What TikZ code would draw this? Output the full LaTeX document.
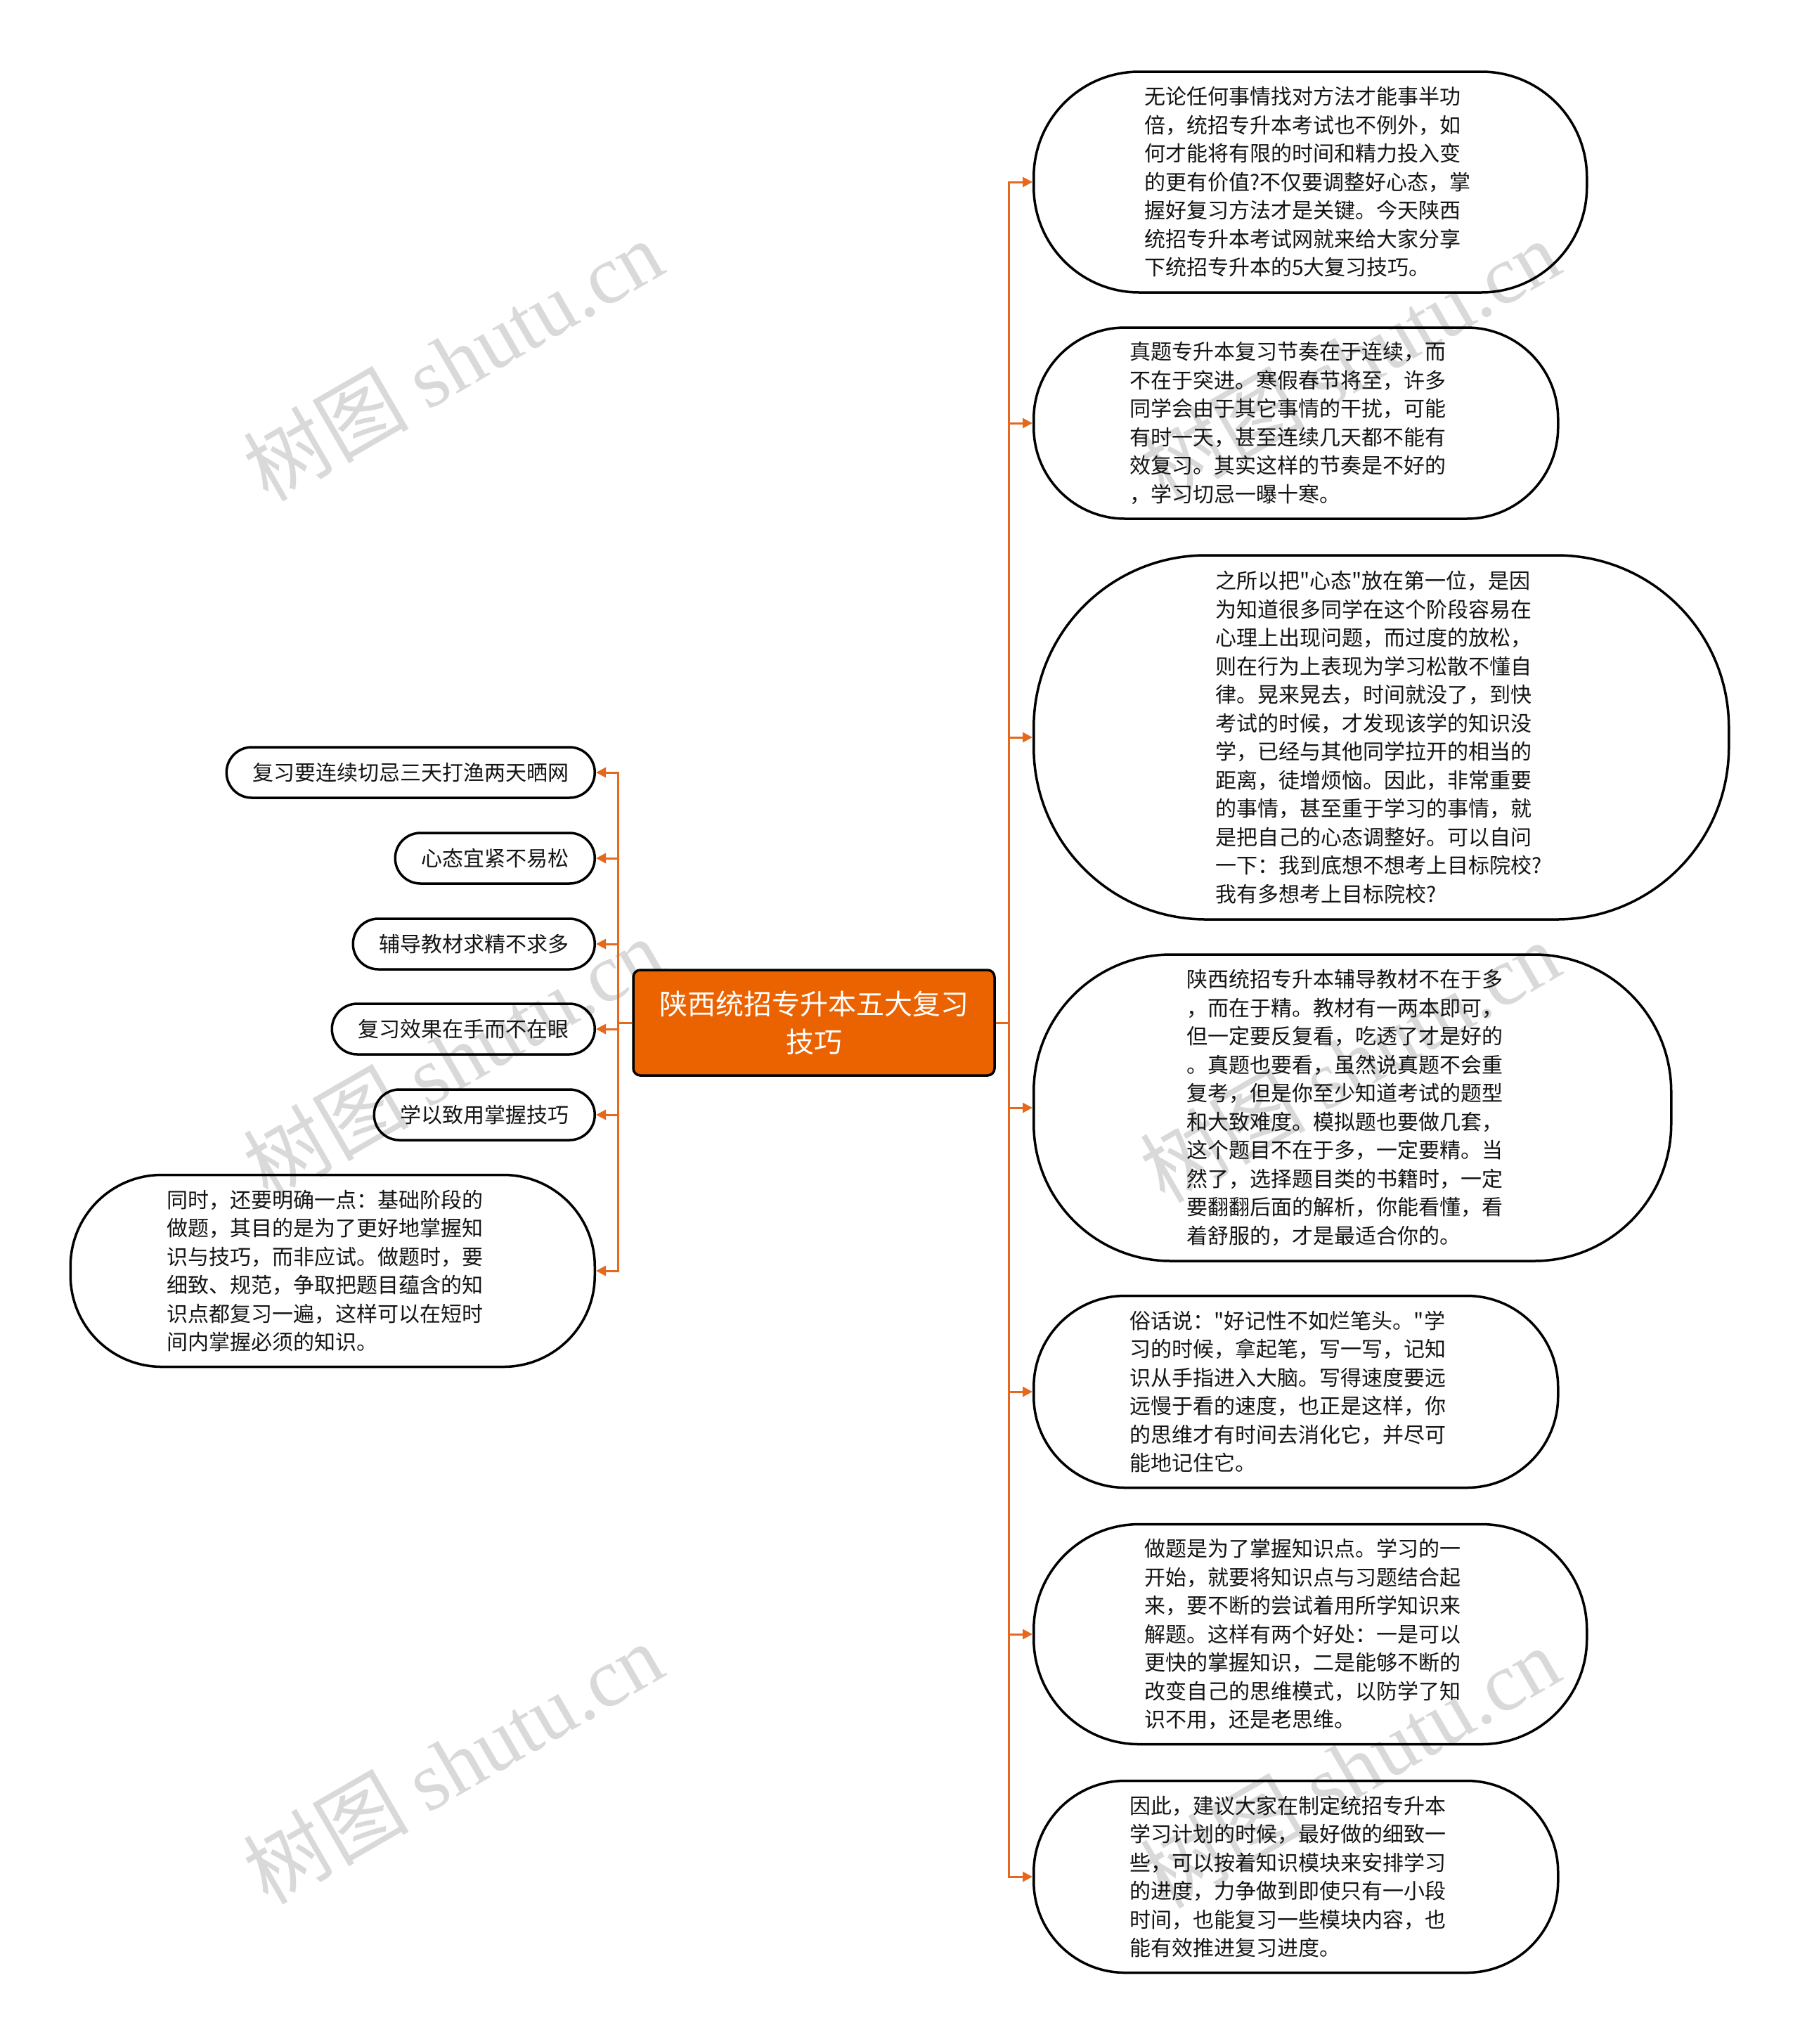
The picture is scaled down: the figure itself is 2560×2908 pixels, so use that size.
\documentclass[tikz,border=0pt]{standalone}
\usepackage{fontspec}
\newfontfamily\cjkfont{Noto Sans CJK SC}
\newfontfamily\wmserif{Liberation Serif}
\usetikzlibrary{positioning,arrows.meta}

\definecolor{rootorange}{RGB}{235,98,0}
\definecolor{linkorange}{RGB}{230,104,28}
\definecolor{wmgray}{RGB}{217,217,217}

\begin{document}
\begin{tikzpicture}[x=1pt,y=-1pt,
  topic/.style={draw=black, line width=3.5pt, inner sep=0pt, align=left, text=black!92, font=\cjkfont\fontsize{30}{40.5}\selectfont},
  leaf/.style={topic, rounded corners=36pt, minimum height=72pt, inner xsep=37pt, anchor=east},
  bubble/.style={topic, rounded corners=#1, text width=472pt, anchor=west},
  root/.style={draw=black, fill=rootorange, line width=3.5pt, rounded corners=10pt, minimum width=514pt, minimum height=150pt, inner sep=0pt, align=center, text=white, font=\cjkfont\fontsize{40}{54}\selectfont},
  link/.style={draw=linkorange, line width=3pt, -{Triangle[length=14pt,width=14pt]}},
  wmark/.style={text=wmgray, rotate=30, inner sep=0pt, font=\cjkfont\fontsize{118}{118}\selectfont}]

  \useasboundingbox (0,0) rectangle (2560,2908);
  \fill[white] (0,0) rectangle (2560,2908);

  \node[wmark] (wm1) at (644,512) {树图 {\wmserif shutu.cn}};
  \node[wmark] (wm2) at (1920,512) {树图 {\wmserif shutu.cn}};
  \node[wmark] (wm3) at (644,1505) {树图 {\wmserif shutu.cn}};
  \node[wmark] (wm4) at (1920,1510) {树图 {\wmserif shutu.cn}};
  \node[wmark] (wm5) at (644,2508) {树图 {\wmserif shutu.cn}};
  \node[wmark] (wm6) at (1920,2514) {树图 {\wmserif shutu.cn}};

  \node[root] (root) at (1158,1455) {陕西统招专升本五大复习\\技巧};

  \node[bubble=150pt, minimum width=787pt, minimum height=314pt] (r1) at (1469,259) {无论任何事情找对方法才能事半功\\倍，统招专升本考试也不例外，如\\何才能将有限的时间和精力投入变\\的更有价值?不仅要调整好心态，掌\\握好复习方法才是关键。今天陕西\\统招专升本考试网就来给大家分享\\下统招专升本的5大复习技巧。};
  \node[bubble=130pt, minimum width=746pt, minimum height=272pt] (r2) at (1469,602) {真题专升本复习节奏在于连续，而\\不在于突进。寒假春节将至，许多\\同学会由于其它事情的干扰，可能\\有时一天，甚至连续几天都不能有\\效复习。其实这样的节奏是不好的\\，学习切忌一曝十寒。};
  \node[bubble=245pt, minimum width=989pt, minimum height=518pt] (r3) at (1469,1049) {之所以把"心态"放在第一位，是因\\为知道很多同学在这个阶段容易在\\心理上出现问题，而过度的放松，\\则在行为上表现为学习松散不懂自\\律。晃来晃去，时间就没了，到快\\考试的时候，才发现该学的知识没\\学，已经与其他同学拉开的相当的\\距离，徒增烦恼。因此，非常重要\\的事情，甚至重于学习的事情，就\\是把自己的心态调整好。可以自问\\一下：我到底想不想考上目标院校?\\我有多想考上目标院校?};
  \node[bubble=195pt, minimum width=907pt, minimum height=436pt] (r4) at (1469,1576) {陕西统招专升本辅导教材不在于多\\，而在于精。教材有一两本即可，\\但一定要反复看，吃透了才是好的\\。真题也要看，虽然说真题不会重\\复考，但是你至少知道考试的题型\\和大致难度。模拟题也要做几套，\\这个题目不在于多，一定要精。当\\然了，选择题目类的书籍时，一定\\要翻翻后面的解析，你能看懂，看\\着舒服的，才是最适合你的。};
  \node[bubble=130pt, minimum width=746pt, minimum height=273pt] (r5) at (1469,1980) {俗话说："好记性不如烂笔头。"学\\习的时候，拿起笔，写一写，记知\\识从手指进入大脑。写得速度要远\\远慢于看的速度，也正是这样，你\\的思维才有时间去消化它，并尽可\\能地记住它。};
  \node[bubble=150pt, minimum width=787pt, minimum height=313pt] (r6) at (1469,2325) {做题是为了掌握知识点。学习的一\\开始，就要将知识点与习题结合起\\来，要不断的尝试着用所学知识来\\解题。这样有两个好处：一是可以\\更快的掌握知识，二是能够不断的\\改变自己的思维模式，以防学了知\\识不用，还是老思维。};
  \node[bubble=130pt, minimum width=746pt, minimum height=273pt] (r7) at (1469,2670) {因此，建议大家在制定统招专升本\\学习计划的时候，最好做的细致一\\些，可以按着知识模块来安排学习\\的进度，力争做到即使只有一小段\\时间，也能复习一些模块内容，也\\能有效推进复习进度。};

  \node[leaf] (l1) at (848,1099) {复习要连续切忌三天打渔两天晒网};
  \node[leaf] (l2) at (848,1221) {心态宜紧不易松};
  \node[leaf] (l3) at (848,1343) {辅导教材求精不求多};
  \node[leaf] (l4) at (848,1464) {复习效果在手而不在眼};
  \node[leaf] (l5) at (848,1586) {学以致用掌握技巧};
  \node[bubble=130pt, minimum width=746pt, minimum height=273pt, anchor=east] (l6) at (848,1808) {同时，还要明确一点：基础阶段的\\做题，其目的是为了更好地掌握知\\识与技巧，而非应试。做题时，要\\细致、规范，争取把题目蕴含的知\\识点都复习一遍，这样可以在短时\\间内掌握必须的知识。};

  \draw[link] (root.east) -- ++(19,0) |- (r1.west);
  \draw[link] (root.east) -- ++(19,0) |- (r2.west);
  \draw[link] (root.east) -- ++(19,0) |- (r3.west);
  \draw[link] (root.east) -- ++(19,0) |- (r4.west);
  \draw[link] (root.east) -- ++(19,0) |- (r5.west);
  \draw[link] (root.east) -- ++(19,0) |- (r6.west);
  \draw[link] (root.east) -- ++(19,0) |- (r7.west);

  \draw[link] (root.west) -- ++(-20,0) |- (l1.east);
  \draw[link] (root.west) -- ++(-20,0) |- (l2.east);
  \draw[link] (root.west) -- ++(-20,0) |- (l3.east);
  \draw[link] (root.west) -- ++(-20,0) |- (l4.east);
  \draw[link] (root.west) -- ++(-20,0) |- (l5.east);
  \draw[link] (root.west) -- ++(-20,0) |- (l6.east);

\end{tikzpicture}
\end{document}
